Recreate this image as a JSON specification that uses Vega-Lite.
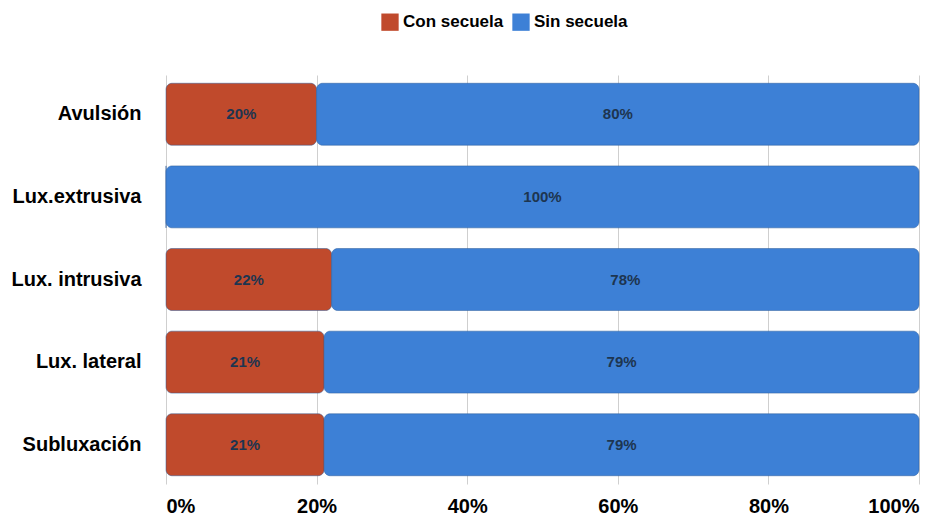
{
  "$schema": "https://vega.github.io/schema/vega-lite/v6.json",
  "autosize": {"type": "fit", "contains": "padding"},
  "width": 945,
  "height": 531,
  "padding": {"left": 10, "right": 25, "top": 75, "bottom": 15},
  "background": "white",
  "data": {
    "values": [
      {"cat": "Avulsión", "grupo": "Con secuela", "ord": 1, "valor": 20},
      {"cat": "Avulsión", "grupo": "Sin secuela", "ord": 2, "valor": 80},
      {"cat": "Lux.extrusiva", "grupo": "Con secuela", "ord": 1, "valor": 0},
      {"cat": "Lux.extrusiva", "grupo": "Sin secuela", "ord": 2, "valor": 100},
      {"cat": "Lux. intrusiva", "grupo": "Con secuela", "ord": 1, "valor": 22},
      {"cat": "Lux. intrusiva", "grupo": "Sin secuela", "ord": 2, "valor": 78},
      {"cat": "Lux. lateral", "grupo": "Con secuela", "ord": 1, "valor": 21},
      {"cat": "Lux. lateral", "grupo": "Sin secuela", "ord": 2, "valor": 79},
      {"cat": "Subluxación", "grupo": "Con secuela", "ord": 1, "valor": 21},
      {"cat": "Subluxación", "grupo": "Sin secuela", "ord": 2, "valor": 79}
    ]
  },
  "transform": [
    {"stack": "valor", "groupby": ["cat"], "sort": [{"field": "ord"}], "as": ["v0", "v1"]},
    {"calculate": "(datum.v0 + datum.v1) / 2", "as": "vmid"},
    {"calculate": "datum.valor + '%'", "as": "etiqueta"}
  ],
  "encoding": {
    "y": {
      "field": "cat", "type": "nominal",
      "sort": ["Avulsión", "Lux.extrusiva", "Lux. intrusiva", "Lux. lateral", "Subluxación"],
      "axis": {"title": null, "labelFont": "Liberation Sans", "labelFontSize": 20, "labelFontWeight": "bold", "labelColor": "#000", "domain": false, "ticks": false, "labelPadding": 25},
      "scale": {"paddingInner": 0.25, "paddingOuter": 0.1}
    }
  },
  "layer": [
    {
      "mark": {"type": "bar", "cornerRadius": 6, "stroke": "#2a5a99", "strokeWidth": 0.5},
      "encoding": {
        "x": {"field": "v0", "type": "quantitative", "scale": {"domain": [0, 100], "nice": false},
          "axis": {"title": null, "values": [0, 20, 40, 60, 80, 100], "labelExpr": "datum.value + '%'", "labelFont": "Liberation Sans", "labelFontSize": 20, "labelFontWeight": "bold", "labelColor": "#000", "grid": true, "gridColor": "#cfcfcf", "domain": false, "ticks": false, "labelPadding": 12}},
        "x2": {"field": "v1"},
        "color": {
          "field": "grupo", "type": "nominal",
          "scale": {"domain": ["Con secuela", "Sin secuela"], "range": ["#c04a2c", "#3d80d6"]},
          "legend": {"title": null, "orient": "none", "legendX": 215, "legendY": -62, "direction": "horizontal", "labelFont": "Liberation Sans", "labelFontSize": 17, "labelFontWeight": "bold", "labelColor": "#000", "symbolType": "square", "symbolSize": 300, "symbolStrokeWidth": 0, "columnPadding": 8}
        }
      }
    },
    {
      "transform": [{"filter": "datum.valor > 0"}],
      "mark": {"type": "text", "font": "Liberation Sans", "fontSize": 15, "fontWeight": "bold", "color": "#1d3550"},
      "encoding": {
        "x": {"field": "vmid", "type": "quantitative"},
        "text": {"field": "etiqueta", "type": "nominal"},
        "detail": {"field": "grupo"}
      }
    }
  ],
  "config": {"view": {"stroke": null}}
}
